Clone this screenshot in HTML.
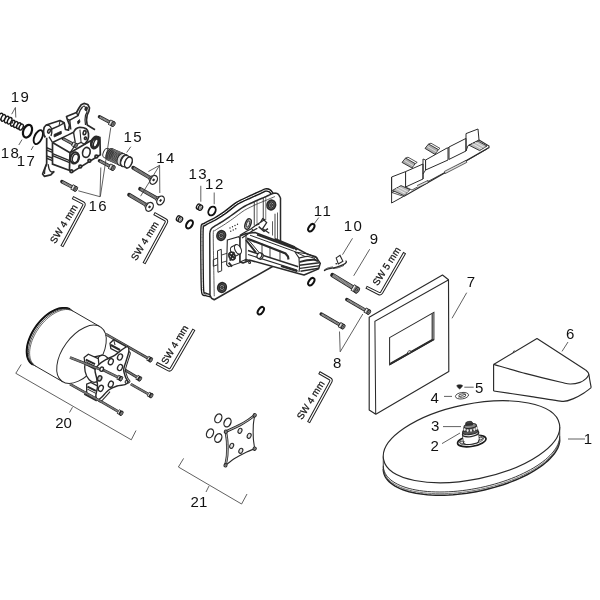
<!DOCTYPE html>
<html><head><meta charset="utf-8"><title>Exploded view</title>
<style>
html,body{margin:0;padding:0;background:#fff}
svg{display:block}
text{font-family:"Liberation Sans",sans-serif;fill:#111}
svg{filter:grayscale(1)}
</style></head><body>
<svg width="600" height="600" viewBox="0 0 600 600">
<rect width="600" height="600" fill="#fff"/>
<path d="M72.5,197.5 L82.84,202.8 Q84.8,203.8 83.76,205.74 L61.8,246.5" fill="none" stroke="#222" stroke-width="3.3"/>
<path d="M73.3,197.91 L82.84,202.8 Q84.8,203.8 83.76,205.74 L62.23,245.71" fill="none" stroke="#fff" stroke-width="1.3"/>
<text x="55.3" y="244.2" font-size="9.7" text-anchor="start" transform="rotate(-58.5 55.3 244.2)" letter-spacing="0.15" stroke="#111" stroke-width="0.25">SW 4 mm</text>
<path d="M154,213.5 L165.27,219.74 Q167.2,220.8 166.15,222.73 L144,263.5" fill="none" stroke="#222" stroke-width="3.3"/>
<path d="M154.79,213.94 L165.27,219.74 Q167.2,220.8 166.15,222.73 L144.43,262.71" fill="none" stroke="#fff" stroke-width="1.3"/>
<text x="136.3" y="261.2" font-size="9.7" text-anchor="start" transform="rotate(-58.5 136.3 261.2)" letter-spacing="0.15" stroke="#111" stroke-width="0.25">SW 4 mm</text>
<path d="M194,329.4 L171.3,368.7 Q170.2,370.6 168.26,369.57 L156.4,363.3" fill="none" stroke="#222" stroke-width="3.3"/>
<path d="M193.55,330.18 L171.3,368.7 Q170.2,370.6 168.26,369.57 L157.2,363.72" fill="none" stroke="#fff" stroke-width="1.3"/>
<text x="166.4" y="365.1" font-size="9.7" text-anchor="start" transform="rotate(-59 166.4 365.1)" letter-spacing="0.15" stroke="#111" stroke-width="0.25">SW 4 mm</text>
<path d="M319,372.5 L329.89,378.71 Q331.8,379.8 330.75,381.73 L308.5,422.5" fill="none" stroke="#222" stroke-width="3.3"/>
<path d="M319.78,372.95 L329.89,378.71 Q331.8,379.8 330.75,381.73 L308.93,421.71" fill="none" stroke="#fff" stroke-width="1.3"/>
<text x="302" y="420.3" font-size="9.7" text-anchor="start" transform="rotate(-58 302 420.3)" letter-spacing="0.15" stroke="#111" stroke-width="0.25">SW 4 mm</text>
<path d="M404.7,252.7 L381.7,292.5 Q380.6,294.4 378.63,293.41 L366.1,287.1" fill="none" stroke="#222" stroke-width="3.3"/>
<path d="M404.25,253.48 L381.7,292.5 Q380.6,294.4 378.63,293.41 L366.9,287.5" fill="none" stroke="#fff" stroke-width="1.3"/>
<text x="377.7" y="286.3" font-size="9.7" text-anchor="start" transform="rotate(-57.5 377.7 286.3)" letter-spacing="0.15" stroke="#111" stroke-width="0.25">SW 5 mm</text>
<line x1="99.5" y1="116.8" x2="109.3" y2="122" stroke="#242424" stroke-width="3.5" stroke-linecap="round"/>
<line x1="99.85" y1="116.99" x2="109.3" y2="122" stroke="#a0a0a0" stroke-width="1.9" />
<line x1="99.85" y1="116.99" x2="109.3" y2="122" stroke="#5a5a5a" stroke-width="1.9" stroke-dasharray="0.5 0.9"/>
<line x1="109.3" y1="122" x2="113.36" y2="124.16" stroke="#222" stroke-width="5.8" stroke-linecap="butt"/>
<line x1="109.92" y1="122.33" x2="113.36" y2="124.16" stroke="#777" stroke-width="4.1" />
<line x1="109.92" y1="122.33" x2="110.98" y2="122.89" stroke="#f2f2f2" stroke-width="4.1" />
<ellipse cx="113.36" cy="124.16" rx="1.57" ry="2.7" transform="rotate(27.95 113.36 124.16)" fill="#6a6a6a" stroke="#222" stroke-width="0.8"/>
<ellipse cx="113.36" cy="124.16" rx="0.75" ry="1.45" transform="rotate(27.95 113.36 124.16)" fill="#3a3a3a" stroke="#aaa" stroke-width="0.4"/>
<line x1="99.5" y1="160.8" x2="109.3" y2="166" stroke="#242424" stroke-width="3.5" stroke-linecap="round"/>
<line x1="99.85" y1="160.99" x2="109.3" y2="166" stroke="#a0a0a0" stroke-width="1.9" />
<line x1="99.85" y1="160.99" x2="109.3" y2="166" stroke="#5a5a5a" stroke-width="1.9" stroke-dasharray="0.5 0.9"/>
<line x1="109.3" y1="166" x2="113.36" y2="168.16" stroke="#222" stroke-width="5.8" stroke-linecap="butt"/>
<line x1="109.92" y1="166.33" x2="113.36" y2="168.16" stroke="#777" stroke-width="4.1" />
<line x1="109.92" y1="166.33" x2="110.98" y2="166.89" stroke="#f2f2f2" stroke-width="4.1" />
<ellipse cx="113.36" cy="168.16" rx="1.57" ry="2.7" transform="rotate(27.95 113.36 168.16)" fill="#6a6a6a" stroke="#222" stroke-width="0.8"/>
<ellipse cx="113.36" cy="168.16" rx="0.75" ry="1.45" transform="rotate(27.95 113.36 168.16)" fill="#3a3a3a" stroke="#aaa" stroke-width="0.4"/>
<line x1="61.9" y1="181.6" x2="71.7" y2="186.8" stroke="#242424" stroke-width="3.5" stroke-linecap="round"/>
<line x1="62.25" y1="181.79" x2="71.7" y2="186.8" stroke="#a0a0a0" stroke-width="1.9" />
<line x1="62.25" y1="181.79" x2="71.7" y2="186.8" stroke="#5a5a5a" stroke-width="1.9" stroke-dasharray="0.5 0.9"/>
<line x1="71.7" y1="186.8" x2="75.76" y2="188.96" stroke="#222" stroke-width="5.8" stroke-linecap="butt"/>
<line x1="72.32" y1="187.13" x2="75.76" y2="188.96" stroke="#777" stroke-width="4.1" />
<line x1="72.32" y1="187.13" x2="73.38" y2="187.69" stroke="#f2f2f2" stroke-width="4.1" />
<ellipse cx="75.76" cy="188.96" rx="1.57" ry="2.7" transform="rotate(27.95 75.76 188.96)" fill="#6a6a6a" stroke="#222" stroke-width="0.8"/>
<ellipse cx="75.76" cy="188.96" rx="0.75" ry="1.45" transform="rotate(27.95 75.76 188.96)" fill="#3a3a3a" stroke="#aaa" stroke-width="0.4"/>
<line x1="133.2" y1="167.8" x2="150.2" y2="177.9" stroke="#262626" stroke-width="3.9" stroke-linecap="round"/>
<line x1="133.54" y1="168" x2="150.2" y2="177.9" stroke="#8c8c8c" stroke-width="2.3" />
<line x1="133.54" y1="168" x2="150.2" y2="177.9" stroke="#555" stroke-width="2.3" stroke-dasharray="0.5 0.9"/>
<path d="M148.77,179.32 L151.24,183.98 L156.04,175.9 L150.77,175.97 Z" fill="#fff" stroke="#2a2a2a" stroke-width="0.8"/>
<ellipse cx="153.64" cy="179.94" rx="3.4" ry="4.7" transform="rotate(30.72 153.64 179.94)" fill="#fff" stroke="#2a2a2a" stroke-width="1.3"/>
<ellipse cx="153.64" cy="179.94" rx="0.8" ry="1.1" transform="rotate(30.72 153.64 179.94)" fill="#222" stroke="#2a2a2a" stroke-width="0.7"/>
<line x1="140.1" y1="188.9" x2="157.1" y2="198.5" stroke="#262626" stroke-width="3.9" stroke-linecap="round"/>
<line x1="140.45" y1="189.1" x2="157.1" y2="198.5" stroke="#8c8c8c" stroke-width="2.3" />
<line x1="140.45" y1="189.1" x2="157.1" y2="198.5" stroke="#555" stroke-width="2.3" stroke-dasharray="0.5 0.9"/>
<path d="M155.71,199.95 L158.27,204.56 L162.89,196.37 L157.62,196.56 Z" fill="#fff" stroke="#2a2a2a" stroke-width="0.8"/>
<ellipse cx="160.58" cy="200.47" rx="3.4" ry="4.7" transform="rotate(29.45 160.58 200.47)" fill="#fff" stroke="#2a2a2a" stroke-width="1.3"/>
<ellipse cx="160.58" cy="200.47" rx="0.8" ry="1.1" transform="rotate(29.45 160.58 200.47)" fill="#222" stroke="#2a2a2a" stroke-width="0.7"/>
<line x1="129.1" y1="194.8" x2="146.1" y2="204.9" stroke="#262626" stroke-width="3.9" stroke-linecap="round"/>
<line x1="129.44" y1="195" x2="146.1" y2="204.9" stroke="#8c8c8c" stroke-width="2.3" />
<line x1="129.44" y1="195" x2="146.1" y2="204.9" stroke="#555" stroke-width="2.3" stroke-dasharray="0.5 0.9"/>
<path d="M144.67,206.32 L147.14,210.98 L151.94,202.9 L146.67,202.97 Z" fill="#fff" stroke="#2a2a2a" stroke-width="0.8"/>
<ellipse cx="149.54" cy="206.94" rx="3.4" ry="4.7" transform="rotate(30.72 149.54 206.94)" fill="#fff" stroke="#2a2a2a" stroke-width="1.3"/>
<ellipse cx="149.54" cy="206.94" rx="0.8" ry="1.1" transform="rotate(30.72 149.54 206.94)" fill="#222" stroke="#2a2a2a" stroke-width="0.7"/>
<line x1="332.5" y1="275.1" x2="352.4" y2="287.3" stroke="#242424" stroke-width="4.6" stroke-linecap="round"/>
<line x1="332.84" y1="275.31" x2="352.4" y2="287.3" stroke="#a0a0a0" stroke-width="3" />
<line x1="332.84" y1="275.31" x2="352.4" y2="287.3" stroke="#5a5a5a" stroke-width="3" stroke-dasharray="0.5 0.9"/>
<line x1="352.4" y1="287.3" x2="357.17" y2="290.23" stroke="#222" stroke-width="7.2" stroke-linecap="butt"/>
<line x1="353" y1="287.67" x2="357.17" y2="290.23" stroke="#777" stroke-width="5.5" />
<line x1="353" y1="287.67" x2="354.02" y2="288.29" stroke="#f2f2f2" stroke-width="5.5" />
<ellipse cx="357.17" cy="290.23" rx="1.94" ry="3.4" transform="rotate(31.51 357.17 290.23)" fill="#6a6a6a" stroke="#222" stroke-width="0.8"/>
<ellipse cx="357.17" cy="290.23" rx="0.94" ry="1.8" transform="rotate(31.51 357.17 290.23)" fill="#3a3a3a" stroke="#aaa" stroke-width="0.4"/>
<line x1="346.8" y1="299.5" x2="364.9" y2="309.9" stroke="#242424" stroke-width="3.5" stroke-linecap="round"/>
<line x1="347.15" y1="299.7" x2="364.9" y2="309.9" stroke="#a0a0a0" stroke-width="1.9" />
<line x1="347.15" y1="299.7" x2="364.9" y2="309.9" stroke="#5a5a5a" stroke-width="1.9" stroke-dasharray="0.5 0.9"/>
<line x1="364.9" y1="309.9" x2="368.89" y2="312.19" stroke="#222" stroke-width="5.6" stroke-linecap="butt"/>
<line x1="365.51" y1="310.25" x2="368.89" y2="312.19" stroke="#777" stroke-width="3.9" />
<line x1="365.51" y1="310.25" x2="366.55" y2="310.85" stroke="#f2f2f2" stroke-width="3.9" />
<ellipse cx="368.89" cy="312.19" rx="1.51" ry="2.6" transform="rotate(29.88 368.89 312.19)" fill="#6a6a6a" stroke="#222" stroke-width="0.8"/>
<ellipse cx="368.89" cy="312.19" rx="0.73" ry="1.4" transform="rotate(29.88 368.89 312.19)" fill="#3a3a3a" stroke="#aaa" stroke-width="0.4"/>
<line x1="321.2" y1="314.1" x2="339.3" y2="324.5" stroke="#242424" stroke-width="3.5" stroke-linecap="round"/>
<line x1="321.55" y1="314.3" x2="339.3" y2="324.5" stroke="#a0a0a0" stroke-width="1.9" />
<line x1="321.55" y1="314.3" x2="339.3" y2="324.5" stroke="#5a5a5a" stroke-width="1.9" stroke-dasharray="0.5 0.9"/>
<line x1="339.3" y1="324.5" x2="343.29" y2="326.79" stroke="#222" stroke-width="5.6" stroke-linecap="butt"/>
<line x1="339.91" y1="324.85" x2="343.29" y2="326.79" stroke="#777" stroke-width="3.9" />
<line x1="339.91" y1="324.85" x2="340.95" y2="325.45" stroke="#f2f2f2" stroke-width="3.9" />
<ellipse cx="343.29" cy="326.79" rx="1.51" ry="2.6" transform="rotate(29.88 343.29 326.79)" fill="#6a6a6a" stroke="#222" stroke-width="0.8"/>
<ellipse cx="343.29" cy="326.79" rx="0.73" ry="1.4" transform="rotate(29.88 343.29 326.79)" fill="#3a3a3a" stroke="#aaa" stroke-width="0.4"/>
<ellipse cx="27.5" cy="131.2" rx="4.2" ry="6.6" transform="rotate(22 27.5 131.2)" fill="none" stroke="#111" stroke-width="2.2"/>
<ellipse cx="38.3" cy="137.1" rx="3.8" ry="7.5" transform="rotate(25 38.3 137.1)" fill="none" stroke="#111" stroke-width="1.9"/>
<ellipse cx="189.5" cy="224.4" rx="2.8" ry="4.5" transform="rotate(33 189.5 224.4)" fill="none" stroke="#111" stroke-width="2.1"/>
<ellipse cx="212" cy="211" rx="3.3" ry="4.7" transform="rotate(30 212 211)" fill="none" stroke="#111" stroke-width="1.9"/>
<ellipse cx="311.3" cy="227.7" rx="2.4" ry="4.2" transform="rotate(35 311.3 227.7)" fill="none" stroke="#111" stroke-width="2"/>
<ellipse cx="311.3" cy="281.7" rx="2.4" ry="4.2" transform="rotate(35 311.3 281.7)" fill="none" stroke="#111" stroke-width="2"/>
<ellipse cx="260.8" cy="310.7" rx="2.4" ry="4.2" transform="rotate(35 260.8 310.7)" fill="none" stroke="#111" stroke-width="2"/>
<ellipse cx="198.6" cy="206.7" rx="2" ry="2.8" transform="rotate(28 198.6 206.7)" fill="#fff" stroke="#1a1a1a" stroke-width="1.3"/>
<ellipse cx="200.4" cy="207.7" rx="2" ry="2.8" transform="rotate(28 200.4 207.7)" fill="#fff" stroke="#1a1a1a" stroke-width="1.3"/>
<ellipse cx="200.5" cy="207.7" rx="0.7" ry="1.2" transform="rotate(28 200.5 207.7)" fill="none" stroke="#333" stroke-width="0.6"/>
<ellipse cx="178.6" cy="218.5" rx="2" ry="2.8" transform="rotate(28 178.6 218.5)" fill="#fff" stroke="#1a1a1a" stroke-width="1.3"/>
<ellipse cx="180.4" cy="219.5" rx="2" ry="2.8" transform="rotate(28 180.4 219.5)" fill="#fff" stroke="#1a1a1a" stroke-width="1.3"/>
<ellipse cx="180.5" cy="219.5" rx="0.7" ry="1.2" transform="rotate(28 180.5 219.5)" fill="none" stroke="#333" stroke-width="0.6"/>
<path d="M369.2,317.2 L442.5,275 L448.5,279.7 L448.8,371.6 L375.8,414.2 L369.2,410 Z" fill="#fff" stroke="#2a2a2a" stroke-width="1.15" stroke-linejoin="round"/>
<path d="M448.3,280 L374.9,321.4 L375.7,414" fill="none" stroke="#2a2a2a" stroke-width="1.03"/>
<path d="M389.6,337.6 L433.9,312.3 L433.9,339.7 L389.6,364.8 Z" fill="none" stroke="#2a2a2a" stroke-width="1.03"/>
<path d="M390.4,363.2 L432.2,339.4 L432.2,313.6" fill="none" stroke="#2a2a2a" stroke-width="1.15"/>
<path d="M389.8,364.4 L433.7,339.4" fill="none" stroke="#2a2a2a" stroke-width="1.61"/>
<ellipse cx="409.2" cy="351.9" rx="1.8" ry="1" transform="rotate(-30 409.2 351.9)" fill="#fff" stroke="#2a2a2a" stroke-width="0.8"/>
<path d="M493.6,364.4 L537,338.6 L585.6,370" fill="none" stroke="#2a2a2a" stroke-width="1.15" stroke-linejoin="round"/>
<path d="M585.6,370 C586.07,370.5 587.73,371.5 588.4,373 C589.07,374.5 589.13,376.57 589.6,379 C590.07,381.43 590.93,386.17 591.2,387.6" fill="none" stroke="#2a2a2a" stroke-width="1.15"/>
<path d="M493.6,364.4 L493.6,391" fill="none" stroke="#2a2a2a" stroke-width="1.15"/>
<path d="M493.6,364.4 C499,365.93 514.93,370.67 526,373.6 C537.07,376.53 552.67,380.27 560,382 C567.33,383.73 566.67,383.93 570,384 C573.33,384.07 577.33,383.3 580,382.4 C582.67,381.5 584.5,379.93 586,378.6 C587.5,377.27 588.5,375.1 589,374.4" fill="none" stroke="#2a2a2a" stroke-width="1.15"/>
<path d="M493.6,391 C497.24,391.54 523.06,395.36 530,396.4 C536.94,397.44 558.6,401.2 563,401.4 C567.4,401.6 571.9,399.24 574,398.4 C576.1,397.56 582.28,394.08 584,393 C585.72,391.92 590.48,388.14 591.2,387.6" fill="none" stroke="#2a2a2a" stroke-width="1.15"/>
<line x1="513" y1="352.4" x2="514.4" y2="350.4" stroke="#2a2a2a" stroke-width="0.8" />
<path d="M559.72,439.56 L559.6,441.58 L559.24,443.64 L558.63,445.72 L557.79,447.83 L556.71,449.96 L555.4,452.1 L553.86,454.24 L552.09,456.38 L550.1,458.52 L547.9,460.65 L545.49,462.75 L542.87,464.84 L540.06,466.9 L537.06,468.92 L533.88,470.9 L530.53,472.83 L527.02,474.72 L523.35,476.55 L519.55,478.31 L515.61,480.02 L511.55,481.65 L507.38,483.2 L503.11,484.68 L498.76,486.07 L494.33,487.38 L489.84,488.59 L485.3,489.71 L480.72,490.74 L476.12,491.66 L471.5,492.48 L466.88,493.2 L462.28,493.81 L457.7,494.31 L453.16,494.7 L448.67,494.98 L444.24,495.15 L439.89,495.21 L435.62,495.15 L431.45,494.98 L427.39,494.7 L423.45,494.31 L419.65,493.81 L415.98,493.2 L412.47,492.49 L409.12,491.67 L405.94,490.75 L402.94,489.72 L400.13,488.6 L397.51,487.39 L395.1,486.09 L392.9,484.69 L390.91,483.22 L389.14,481.66 L387.6,480.03 L386.29,478.33 L385.21,476.57 L384.37,474.74 L383.76,472.85 L383.4,470.92 L383.28,468.94" fill="none" stroke="#222" stroke-width="1.49"/>
<path d="M559.72,438.06 L559.6,440.08 L559.24,442.14 L558.63,444.22 L557.79,446.33 L556.71,448.46 L555.4,450.6 L553.86,452.74 L552.09,454.88 L550.1,457.02 L547.9,459.15 L545.49,461.25 L542.87,463.34 L540.06,465.4 L537.06,467.42 L533.88,469.4 L530.53,471.33 L527.02,473.22 L523.35,475.05 L519.55,476.81 L515.61,478.52 L511.55,480.15 L507.38,481.7 L503.11,483.18 L498.76,484.57 L494.33,485.88 L489.84,487.09 L485.3,488.21 L480.72,489.24 L476.12,490.16 L471.5,490.98 L466.88,491.7 L462.28,492.31 L457.7,492.81 L453.16,493.2 L448.67,493.48 L444.24,493.65 L439.89,493.71 L435.62,493.65 L431.45,493.48 L427.39,493.2 L423.45,492.81 L419.65,492.31 L415.98,491.7 L412.47,490.99 L409.12,490.17 L405.94,489.25 L402.94,488.22 L400.13,487.1 L397.51,485.89 L395.1,484.59 L392.9,483.19 L390.91,481.72 L389.14,480.16 L387.6,478.53 L386.29,476.83 L385.21,475.07 L384.37,473.24 L383.76,471.35 L383.4,469.42 L383.28,467.44" fill="none" stroke="#555" stroke-width="0.8"/>
<path d="M559.72,436.36 L559.6,438.38 L559.24,440.44 L558.63,442.52 L557.79,444.63 L556.71,446.76 L555.4,448.9 L553.86,451.04 L552.09,453.18 L550.1,455.32 L547.9,457.45 L545.49,459.55 L542.87,461.64 L540.06,463.7 L537.06,465.72 L533.88,467.7 L530.53,469.63 L527.02,471.52 L523.35,473.35 L519.55,475.11 L515.61,476.82 L511.55,478.45 L507.38,480 L503.11,481.48 L498.76,482.87 L494.33,484.18 L489.84,485.39 L485.3,486.51 L480.72,487.54 L476.12,488.46 L471.5,489.28 L466.88,490 L462.28,490.61 L457.7,491.11 L453.16,491.5 L448.67,491.78 L444.24,491.95 L439.89,492.01 L435.62,491.95 L431.45,491.78 L427.39,491.5 L423.45,491.11 L419.65,490.61 L415.98,490 L412.47,489.29 L409.12,488.47 L405.94,487.55 L402.94,486.52 L400.13,485.4 L397.51,484.19 L395.1,482.89 L392.9,481.49 L390.91,480.02 L389.14,478.46 L387.6,476.83 L386.29,475.13 L385.21,473.37 L384.37,471.54 L383.76,469.65 L383.4,467.72 L383.28,465.74" fill="none" stroke="#2a2a2a" stroke-width="0.92"/>
<line x1="559.72" y1="427.06" x2="559.72" y2="439.56" stroke="#2a2a2a" stroke-width="0.9" />
<line x1="383.28" y1="456.44" x2="383.28" y2="468.94" stroke="#2a2a2a" stroke-width="0.9" />
<ellipse cx="471.5" cy="441.75" rx="89.7" ry="37.6" transform="rotate(-11.5 471.5 441.75)" fill="#fff" stroke="#2a2a2a" stroke-width="1.15"/>
<ellipse cx="462" cy="395.7" rx="6.6" ry="3.2" transform="rotate(-8 462 395.7)" fill="#fff" stroke="#2a2a2a" stroke-width="0.8"/>
<ellipse cx="462.3" cy="395.5" rx="3.6" ry="1.7" transform="rotate(-8 462.3 395.5)" fill="none" stroke="#2a2a2a" stroke-width="0.8"/>
<line x1="458.5" y1="397.2" x2="465.5" y2="394" stroke="#2a2a2a" stroke-width="0.7" />
<path d="M456.8,385.6 C456.9,384.97 458.63,384.8 459.6,384.8 C460.57,384.8 462.47,385 462.6,385.6 C462.73,386.2 461,387.9 460.4,388.4 C459.8,388.9 459.6,389.07 459,388.6 C458.4,388.13 456.7,386.23 456.8,385.6 Z" fill="#222" stroke="#2a2a2a" stroke-width="0.6"/>
<ellipse cx="471.8" cy="441" rx="14.4" ry="5.3" transform="rotate(-10 471.8 441)" fill="#fff" stroke="#1a1a1a" stroke-width="1.7"/>
<ellipse cx="471.6" cy="440.2" rx="12.2" ry="4.1" transform="rotate(-10 471.6 440.2)" fill="#fff" stroke="#2a2a2a" stroke-width="0.7"/>
<ellipse cx="462" cy="442.5" rx="2.2" ry="1.4" transform="rotate(-10 462 442.5)" fill="#ddd" stroke="#2a2a2a" stroke-width="0.8"/>
<ellipse cx="480.5" cy="438.6" rx="2.2" ry="1.4" transform="rotate(-10 480.5 438.6)" fill="#ddd" stroke="#2a2a2a" stroke-width="0.8"/>
<path d="M462.9,434.5 L463.6,442.5" fill="none" stroke="#2a2a2a" stroke-width="1"/>
<path d="M478.3,432.5 L478.9,440.5" fill="none" stroke="#2a2a2a" stroke-width="1"/>
<path d="M462.9,434.5 L478.3,432.5 L478.9,440.5 L463.6,442.5 Z" fill="#fff" stroke="none" stroke-width="0"/>
<path d="M462.9,434.5 L463.6,442.5" fill="none" stroke="#2a2a2a" stroke-width="1"/>
<path d="M478.3,432.5 L478.9,440.5" fill="none" stroke="#2a2a2a" stroke-width="1"/>
<ellipse cx="471.2" cy="441.6" rx="7.7" ry="2.7" transform="rotate(-8 471.2 441.6)" fill="#fff" stroke="#2a2a2a" stroke-width="1"/>
<path d="M463.7,441.5 L478.8,439.7 L478.3,434 L463,436 Z" fill="#fff" stroke="none" stroke-width="0"/>
<ellipse cx="470.6" cy="433.6" rx="8.2" ry="3" transform="rotate(-8 470.6 433.6)" fill="#fff" stroke="#2a2a2a" stroke-width="1.3"/>
<ellipse cx="470.3" cy="431.6" rx="7.8" ry="2.8" transform="rotate(-8 470.3 431.6)" fill="#555" stroke="#2a2a2a" stroke-width="1.1"/>
<path d="M463,431.5 L464.2,426.5 L476.4,425 L477.8,430.2 Z" fill="#555" stroke="#2a2a2a" stroke-width="0.8"/>
<ellipse cx="470.2" cy="426" rx="6.2" ry="2.3" transform="rotate(-8 470.2 426)" fill="#888" stroke="#2a2a2a" stroke-width="1"/>
<ellipse cx="464.6" cy="429.5" rx="1" ry="1.3" transform="rotate(0 464.6 429.5)" fill="#eee" stroke="none" stroke-width="0"/>
<ellipse cx="467.6" cy="430.6" rx="1" ry="1.3" transform="rotate(0 467.6 430.6)" fill="#eee" stroke="none" stroke-width="0"/>
<ellipse cx="471" cy="430.4" rx="1" ry="1.3" transform="rotate(0 471 430.4)" fill="#eee" stroke="none" stroke-width="0"/>
<ellipse cx="474.4" cy="429.6" rx="1" ry="1.3" transform="rotate(0 474.4 429.6)" fill="#eee" stroke="none" stroke-width="0"/>
<ellipse cx="476.6" cy="428.4" rx="1" ry="1.3" transform="rotate(0 476.6 428.4)" fill="#eee" stroke="none" stroke-width="0"/>
<path d="M465.6,425.6 L465.9,423 L472.2,422.3 L472.6,425 Z" fill="#333" stroke="#2a2a2a" stroke-width="0.8"/>
<ellipse cx="469" cy="422.7" rx="3.2" ry="1.3" transform="rotate(-8 469 422.7)" fill="#444" stroke="#2a2a2a" stroke-width="0.8"/>
<ellipse cx="218.3" cy="418.3" rx="3.3" ry="4.6" transform="rotate(25 218.3 418.3)" fill="none" stroke="#2a2a2a" stroke-width="1.3"/>
<ellipse cx="227.5" cy="422.5" rx="3.3" ry="4.6" transform="rotate(25 227.5 422.5)" fill="none" stroke="#2a2a2a" stroke-width="1.3"/>
<ellipse cx="210" cy="433.3" rx="3.3" ry="4.6" transform="rotate(25 210 433.3)" fill="none" stroke="#2a2a2a" stroke-width="1.3"/>
<ellipse cx="218.3" cy="438" rx="3.3" ry="4.6" transform="rotate(25 218.3 438)" fill="none" stroke="#2a2a2a" stroke-width="1.3"/>
<path d="M225.83,431.67 C227.72,430.78 237,426.56 240,425 C243,423.44 246.38,421.29 248.33,420 C250.29,418.71 253.82,415.96 254.67,415.33" fill="none" stroke="#2a2a2a" stroke-width="2.6"/>
<path d="M225.83,431.67 C227.72,430.78 237,426.56 240,425 C243,423.44 246.38,421.29 248.33,420 C250.29,418.71 253.82,415.96 254.67,415.33" fill="none" stroke="#fff" stroke-width="0.7"/>
<path d="M225.5,465.33 C225.72,463.96 226.94,458.16 227.17,455 C227.39,451.84 227.34,444.78 227.17,441.67 C226.99,438.56 226.01,433 225.83,431.67" fill="none" stroke="#2a2a2a" stroke-width="2.6"/>
<path d="M225.5,465.33 C225.72,463.96 226.94,458.16 227.17,455 C227.39,451.84 227.34,444.78 227.17,441.67 C226.99,438.56 226.01,433 225.83,431.67" fill="none" stroke="#fff" stroke-width="0.7"/>
<path d="M254.67,415.33 C254.49,416.62 253.51,421.93 253.33,425 C253.16,428.07 253.16,435.18 253.33,438.33 C253.51,441.49 254.49,447.29 254.67,448.67" fill="none" stroke="#2a2a2a" stroke-width="1.1"/>
<path d="M254.67,448.67 C253.6,449.11 249.29,450.71 246.67,452 C244.04,453.29 237.82,456.56 235,458.33 C232.18,460.11 226.77,464.4 225.5,465.33" fill="none" stroke="#2a2a2a" stroke-width="1.1"/>
<ellipse cx="225.83" cy="431.67" rx="1.5" ry="1.67" transform="rotate(25 225.83 431.67)" fill="#fff" stroke="#2a2a2a" stroke-width="1.1"/>
<ellipse cx="225.83" cy="431.67" rx="0.58" ry="0.67" transform="rotate(25 225.83 431.67)" fill="#ccc" stroke="#2a2a2a" stroke-width="0.6"/>
<ellipse cx="254.67" cy="415.33" rx="1.5" ry="1.67" transform="rotate(25 254.67 415.33)" fill="#fff" stroke="#2a2a2a" stroke-width="1.1"/>
<ellipse cx="254.67" cy="415.33" rx="0.58" ry="0.67" transform="rotate(25 254.67 415.33)" fill="#ccc" stroke="#2a2a2a" stroke-width="0.6"/>
<ellipse cx="254.67" cy="448.67" rx="1.5" ry="1.67" transform="rotate(25 254.67 448.67)" fill="#fff" stroke="#2a2a2a" stroke-width="1.1"/>
<ellipse cx="254.67" cy="448.67" rx="0.58" ry="0.67" transform="rotate(25 254.67 448.67)" fill="#ccc" stroke="#2a2a2a" stroke-width="0.6"/>
<ellipse cx="225.5" cy="465.33" rx="1.5" ry="1.67" transform="rotate(25 225.5 465.33)" fill="#fff" stroke="#2a2a2a" stroke-width="1.1"/>
<ellipse cx="225.5" cy="465.33" rx="0.58" ry="0.67" transform="rotate(25 225.5 465.33)" fill="#ccc" stroke="#2a2a2a" stroke-width="0.6"/>
<ellipse cx="240" cy="430.83" rx="1.83" ry="2.67" transform="rotate(25 240 430.83)" fill="#e4e4e4" stroke="#2a2a2a" stroke-width="1.1"/>
<ellipse cx="249.17" cy="435.83" rx="1.83" ry="2.67" transform="rotate(25 249.17 435.83)" fill="#e4e4e4" stroke="#2a2a2a" stroke-width="1.1"/>
<ellipse cx="231.67" cy="445.83" rx="1.83" ry="2.67" transform="rotate(25 231.67 445.83)" fill="#e4e4e4" stroke="#2a2a2a" stroke-width="1.1"/>
<ellipse cx="240.83" cy="450.83" rx="1.83" ry="2.67" transform="rotate(25 240.83 450.83)" fill="#e4e4e4" stroke="#2a2a2a" stroke-width="1.1"/>
<path d="M45.3,137.5 L44,135 L43.5,131 L44.2,127.2 L46.2,125 L60,120.5 L64.2,122.8 L65.5,129.5 L68.5,130.2 L69.5,125 L67.2,119 L66.5,116.5 L76.5,112.5 L79,108 L81.2,104.8 L84,103.4 L87.8,104.5 L89.5,107.8 L88.8,111.5 L87.2,115 L86.5,120 L87.2,125 L95,129.8" fill="none" stroke="#2a2a2a" stroke-width="1.7" stroke-linejoin="round"/>
<ellipse cx="49" cy="131.2" rx="1.2" ry="2" transform="rotate(20 49 131.2)" fill="none" stroke="#2a2a2a" stroke-width="1.53"/>
<path d="M46.2,125 C46.67,125.08 48.17,125 49,125.5 C49.83,126 50.73,126.88 51.2,128 C51.67,129.12 51.83,130.87 51.8,132.2 C51.77,133.53 51.13,135.37 51,136" fill="none" stroke="#2a2a2a" stroke-width="1.36"/>
<path d="M51.8,129 L59,126 L64.2,122.8" fill="none" stroke="#2a2a2a" stroke-width="1.36"/>
<path d="M59,126 L60,120.8" fill="none" stroke="#2a2a2a" stroke-width="1.02"/>
<path d="M54,134.5 L61.2,131.2 L61.4,133.7 L54.2,137 Z" fill="#222" stroke="#2a2a2a" stroke-width="0.85"/>
<path d="M67.2,119 L69.7,120.2 L78,115.7 L76.5,112.5" fill="none" stroke="#2a2a2a" stroke-width="1.36"/>
<path d="M69.7,120.2 L70.8,129.5" fill="none" stroke="#2a2a2a" stroke-width="1.36"/>
<path d="M78,115.7 L80.2,110 L82.5,107" fill="none" stroke="#2a2a2a" stroke-width="1.36"/>
<path d="M77.5,121.4 L79.5,119.6 L80,122.2 L78,124.1 Z" fill="#222" stroke="#2a2a2a" stroke-width="0.85"/>
<ellipse cx="86.2" cy="108.8" rx="0.9" ry="1.5" transform="rotate(25 86.2 108.8)" fill="none" stroke="#2a2a2a" stroke-width="1.53"/>
<path d="M82.5,107 C82.83,106.87 83.75,105.45 84.5,106.2 C85.25,106.95 86.83,110.03 87,111.5 C87.17,112.97 85.75,114.42 85.5,115" fill="none" stroke="#2a2a2a" stroke-width="1.19"/>
<path d="M85.5,115 L85,120 L85.5,125" fill="none" stroke="#2a2a2a" stroke-width="1.19"/>
<path d="M46.67,137.83 L46.67,163.5 L42.58,174 L44.33,176.34 L50.75,174.94 L54.25,171.44" fill="none" stroke="#2a2a2a" stroke-width="1.7" stroke-linejoin="round"/>
<path d="M49,136.67 L52.5,142.5" fill="none" stroke="#2a2a2a" stroke-width="1.36"/>
<path d="M46.67,147.75 L52.5,150.08" fill="none" stroke="#2a2a2a" stroke-width="1.36"/>
<path d="M46.67,150.08 L52.5,152.42" fill="none" stroke="#2a2a2a" stroke-width="1.36"/>
<path d="M46.67,155.92 L52.5,158.25" fill="none" stroke="#2a2a2a" stroke-width="1.36"/>
<path d="M46.67,158.25 L52.5,160.59" fill="none" stroke="#2a2a2a" stroke-width="1.36"/>
<path d="M48.07,164.09 C48.26,164.96 48.69,168.03 49.23,169.34 C49.78,170.64 50.5,171.55 51.33,171.9 C52.17,172.25 53.76,171.51 54.25,171.44" fill="none" stroke="#2a2a2a" stroke-width="1.36"/>
<path d="M46.67,164.09 C46.38,164.96 45.27,167.68 44.92,169.34 C44.57,170.99 44.63,173.22 44.57,174" fill="none" stroke="#2a2a2a" stroke-width="1.19"/>
<path d="M52.5,142.5 L68.25,134.92 L73.5,132.23" fill="none" stroke="#2a2a2a" stroke-width="1.53"/>
<path d="M52.5,142.5 L52.5,164.09 L69.07,170.27" fill="none" stroke="#2a2a2a" stroke-width="1.7"/>
<path d="M52.5,142.5 L70,152.77 L69.42,170.27" fill="none" stroke="#2a2a2a" stroke-width="1.7"/>
<path d="M52.5,153.58 L69.65,160.59" fill="none" stroke="#2a2a2a" stroke-width="1.36"/>
<path d="M52.5,155.57 L69.65,162.57" fill="none" stroke="#2a2a2a" stroke-width="1.36"/>
<path d="M70,152.77 L89.84,141.33 L99.4,136.43" fill="none" stroke="#2a2a2a" stroke-width="1.7"/>
<path d="M69.07,170.27 L72.57,171.9 L100.34,154.75 L99.87,136.67" fill="none" stroke="#2a2a2a" stroke-width="1.7"/>
<ellipse cx="74.67" cy="157.9" rx="4.2" ry="5.6" transform="rotate(15 74.67 157.9)" fill="#fff" stroke="#2a2a2a" stroke-width="2.21"/>
<ellipse cx="75.37" cy="158.37" rx="2.92" ry="4.32" transform="rotate(15 75.37 158.37)" fill="none" stroke="#2a2a2a" stroke-width="1.36"/>
<ellipse cx="86.34" cy="152.42" rx="3.73" ry="5.02" transform="rotate(15 86.34 152.42)" fill="#fff" stroke="#2a2a2a" stroke-width="1.7"/>
<ellipse cx="95.09" cy="142.5" rx="3.5" ry="5.83" transform="rotate(20 95.09 142.5)" fill="none" stroke="#2a2a2a" stroke-width="2.72"/>
<ellipse cx="95.9" cy="143.08" rx="2.1" ry="4.2" transform="rotate(20 95.9 143.08)" fill="none" stroke="#2a2a2a" stroke-width="1.36"/>
<ellipse cx="71.4" cy="171.2" rx="1.4" ry="1.4" transform="rotate(0 71.4 171.2)" fill="#ccc" stroke="#2a2a2a" stroke-width="1.7"/>
<ellipse cx="80.27" cy="166.54" rx="1.4" ry="1.4" transform="rotate(0 80.27 166.54)" fill="#ccc" stroke="#2a2a2a" stroke-width="1.7"/>
<ellipse cx="89.37" cy="160.7" rx="1.4" ry="1.4" transform="rotate(0 89.37 160.7)" fill="#ccc" stroke="#2a2a2a" stroke-width="1.7"/>
<ellipse cx="96.37" cy="156.5" rx="1.4" ry="1.4" transform="rotate(0 96.37 156.5)" fill="#ccc" stroke="#2a2a2a" stroke-width="1.7"/>
<path d="M73.5,132.23 C73.84,131.77 75.21,129.39 76.07,128.73 C76.92,128.08 78.58,127.33 79.92,127.33 C81.26,127.33 84.97,127.92 86.1,128.73 C87.24,129.54 88.22,131.91 88.44,133.4 C88.65,134.89 88.25,138.49 87.74,139.93 C87.22,141.38 85.01,143.68 84.59,144.25" fill="none" stroke="#2a2a2a" stroke-width="1.7"/>
<path d="M73.5,132.23 L75.25,142.5" fill="none" stroke="#2a2a2a" stroke-width="1.36"/>
<path d="M79.92,129.67 L81.09,142.5" fill="none" stroke="#2a2a2a" stroke-width="1.02"/>
<ellipse cx="84.59" cy="132.7" rx="1.4" ry="2.1" transform="rotate(15 84.59 132.7)" fill="none" stroke="#2a2a2a" stroke-width="1.53"/>
<ellipse cx="85.4" cy="138.3" rx="1.05" ry="1.28" transform="rotate(15 85.4 138.3)" fill="none" stroke="#2a2a2a" stroke-width="1.53"/>
<path d="M84.59,144.25 L81.09,142.5 L75.25,145.07 L70,152.77" fill="none" stroke="#2a2a2a" stroke-width="1.19"/>
<line x1="63" y1="138.7" x2="72.3" y2="143.6" stroke="#242424" stroke-width="3" stroke-linecap="round"/>
<line x1="63.35" y1="138.89" x2="72.3" y2="143.6" stroke="#a0a0a0" stroke-width="1.4" />
<line x1="63.35" y1="138.89" x2="72.3" y2="143.6" stroke="#5a5a5a" stroke-width="1.4" stroke-dasharray="0.5 0.9"/>
<line x1="72.3" y1="143.6" x2="76.02" y2="145.56" stroke="#222" stroke-width="5" stroke-linecap="butt"/>
<line x1="72.92" y1="143.93" x2="76.02" y2="145.56" stroke="#777" stroke-width="3.3" />
<line x1="72.92" y1="143.93" x2="73.98" y2="144.49" stroke="#f2f2f2" stroke-width="3.3" />
<ellipse cx="76.02" cy="145.56" rx="1.35" ry="2.3" transform="rotate(27.78 76.02 145.56)" fill="#6a6a6a" stroke="#222" stroke-width="0.8"/>
<ellipse cx="76.02" cy="145.56" rx="0.65" ry="1.25" transform="rotate(27.78 76.02 145.56)" fill="#3a3a3a" stroke="#aaa" stroke-width="0.4"/>
<line x1="0.5" y1="116.6" x2="9.6" y2="120.8" stroke="#fff" stroke-width="6.4" />
<ellipse cx="0.5" cy="116.6" rx="1.9" ry="3.5" transform="rotate(27 0.5 116.6)" fill="#fff" stroke="#1a1a1a" stroke-width="1.4"/>
<ellipse cx="3.3" cy="117.9" rx="1.9" ry="3.5" transform="rotate(27 3.3 117.9)" fill="#fff" stroke="#1a1a1a" stroke-width="1.4"/>
<ellipse cx="6.7" cy="119.6" rx="1.9" ry="3.5" transform="rotate(27 6.7 119.6)" fill="#fff" stroke="#1a1a1a" stroke-width="1.4"/>
<ellipse cx="9.6" cy="120.8" rx="1.9" ry="3.5" transform="rotate(27 9.6 120.8)" fill="#fff" stroke="#1a1a1a" stroke-width="1.4"/>
<line x1="12.8" y1="123.2" x2="21.2" y2="127.1" stroke="#fff" stroke-width="5.8" />
<ellipse cx="12.8" cy="123.2" rx="1.8" ry="3.2" transform="rotate(27 12.8 123.2)" fill="#fff" stroke="#1a1a1a" stroke-width="1.4"/>
<ellipse cx="15.8" cy="124.6" rx="1.8" ry="3.2" transform="rotate(27 15.8 124.6)" fill="#fff" stroke="#1a1a1a" stroke-width="1.4"/>
<ellipse cx="18.8" cy="125.8" rx="1.8" ry="3.2" transform="rotate(27 18.8 125.8)" fill="#fff" stroke="#1a1a1a" stroke-width="1.4"/>
<ellipse cx="21.2" cy="127.1" rx="1.8" ry="3.2" transform="rotate(27 21.2 127.1)" fill="#fff" stroke="#1a1a1a" stroke-width="1.4"/>
<line x1="10.5" y1="121.5" x2="13" y2="122.8" stroke="#333" stroke-width="2.4" />
<ellipse cx="106.2" cy="153.1" rx="2.94" ry="4.9" transform="rotate(22.38 106.2 153.1)" fill="#fff" stroke="#2a2a2a" stroke-width="0.9"/>
<path d="M104.33,157.63 L107.73,159.03 L111.47,149.97 L108.07,148.57" fill="#fff" stroke="#2a2a2a" stroke-width="0.9"/>
<ellipse cx="109.6" cy="154.5" rx="2.94" ry="4.9" transform="rotate(22.38 109.6 154.5)" fill="#fff" stroke="#2a2a2a" stroke-width="0.9"/>
<ellipse cx="110" cy="154.3" rx="3.66" ry="6.1" transform="rotate(23.57 110 154.3)" fill="#333" stroke="#2a2a2a" stroke-width="1"/>
<path d="M107.56,159.89 L118.56,164.69 L123.44,153.51 L112.44,148.71" fill="#333" stroke="#2a2a2a" stroke-width="1"/>
<ellipse cx="121" cy="159.1" rx="3.66" ry="6.1" transform="rotate(23.57 121 159.1)" fill="#333" stroke="#2a2a2a" stroke-width="1"/>
<ellipse cx="110.6" cy="154.6" rx="3.4" ry="6" transform="rotate(23 110.6 154.6)" fill="none" stroke="#999" stroke-width="0.4"/>
<ellipse cx="112.2" cy="155.3" rx="3.4" ry="6" transform="rotate(23 112.2 155.3)" fill="none" stroke="#999" stroke-width="0.4"/>
<ellipse cx="113.8" cy="156" rx="3.4" ry="6" transform="rotate(23 113.8 156)" fill="none" stroke="#999" stroke-width="0.4"/>
<ellipse cx="115.4" cy="156.7" rx="3.4" ry="6" transform="rotate(23 115.4 156.7)" fill="none" stroke="#999" stroke-width="0.4"/>
<ellipse cx="117" cy="157.4" rx="3.4" ry="6" transform="rotate(23 117 157.4)" fill="none" stroke="#999" stroke-width="0.4"/>
<ellipse cx="118.6" cy="158.1" rx="3.4" ry="6" transform="rotate(23 118.6 158.1)" fill="none" stroke="#999" stroke-width="0.4"/>
<ellipse cx="120.2" cy="158.8" rx="3.4" ry="6" transform="rotate(23 120.2 158.8)" fill="none" stroke="#999" stroke-width="0.4"/>
<ellipse cx="121.2" cy="159.2" rx="3.66" ry="6.1" transform="rotate(24.3 121.2 159.2)" fill="#ddd" stroke="#2a2a2a" stroke-width="0.9"/>
<path d="M118.69,164.76 L121.79,166.16 L126.81,155.04 L123.71,153.64" fill="#ddd" stroke="#2a2a2a" stroke-width="0.9"/>
<ellipse cx="124.3" cy="160.6" rx="3.66" ry="6.1" transform="rotate(24.3 124.3 160.6)" fill="#ddd" stroke="#2a2a2a" stroke-width="0.9"/>
<ellipse cx="124.6" cy="160.7" rx="3.5" ry="6.1" transform="rotate(23 124.6 160.7)" fill="#fff" stroke="#2a2a2a" stroke-width="1.5"/>
<ellipse cx="124.8" cy="160.9" rx="3.42" ry="5.7" transform="rotate(23.96 124.8 160.9)" fill="#fff" stroke="#2a2a2a" stroke-width="1"/>
<path d="M122.49,166.11 L126.09,167.71 L130.71,157.29 L127.11,155.69" fill="#fff" stroke="#2a2a2a" stroke-width="1"/>
<ellipse cx="128.4" cy="162.5" rx="3.42" ry="5.7" transform="rotate(23.96 128.4 162.5)" fill="#fff" stroke="#2a2a2a" stroke-width="1"/>
<ellipse cx="128.4" cy="162.5" rx="3.4" ry="5.7" transform="rotate(23 128.4 162.5)" fill="#fff" stroke="#2a2a2a" stroke-width="1.5"/>
<path d="M210.5,295.75 C209.92,295.57 206.43,294.98 205.5,294.25 C204.57,293.52 202.91,297 202.5,289.5 C202.09,282 201.77,237.58 202,230 C202.23,222.42 202.98,225.78 204.5,224.5 C206.02,223.22 212.61,220.4 215,219 C217.39,217.6 222.38,214.37 225,212.5 C227.62,210.63 234.58,204.81 237.5,203 C240.42,201.19 247.38,198.22 250,197 C252.62,195.78 258.19,193.32 260,192.5 C261.81,191.68 264.33,190.18 265.5,190 C266.67,189.82 269.18,190.47 270,191 C270.82,191.53 272.21,194.09 272.5,194.5" fill="none" stroke="#1a1a1a" stroke-width="3.62" stroke-linecap="round"/>
<path d="M210.5,295.75 C209.92,295.57 206.43,294.98 205.5,294.25 C204.57,293.52 202.91,297 202.5,289.5 C202.09,282 201.77,237.58 202,230 C202.23,222.42 202.98,225.78 204.5,224.5 C206.02,223.22 212.61,220.4 215,219 C217.39,217.6 222.38,214.37 225,212.5 C227.62,210.63 234.58,204.81 237.5,203 C240.42,201.19 247.38,198.22 250,197 C252.62,195.78 258.19,193.32 260,192.5 C261.81,191.68 264.33,190.18 265.5,190 C266.67,189.82 269.18,190.47 270,191 C270.82,191.53 272.21,194.09 272.5,194.5" fill="none" stroke="#fff" stroke-width="1"/>
<path d="M214.25,299.75 L211.5,298.25 L210,295 L209.75,233 L209.86,232.66 L209.99,232.15 L210.15,231.53 L210.35,230.82 L210.62,230.08 L210.97,229.33 L211.43,228.63 L212,228 L212.83,227.35 L214,226.57 L215.39,225.71 L216.93,224.8 L218.5,223.88 L220.02,223 L221.38,222.19 L222.5,221.5 L223.5,220.84 L224.55,220.14 L225.65,219.39 L226.78,218.61 L227.91,217.82 L229.05,217.03 L230.17,216.25 L231.25,215.5 L232.46,214.64 L233.93,213.58 L235.57,212.39 L237.31,211.12 L239.08,209.86 L240.79,208.67 L242.37,207.61 L243.75,206.75 L245.13,205.98 L246.71,205.17 L248.42,204.33 L250.19,203.5 L251.93,202.7 L253.57,201.96 L255.04,201.3 L256.25,200.75 L257.34,200.26 L258.48,199.76 L259.65,199.26 L260.81,198.76 L261.95,198.28 L263.05,197.82 L264.07,197.39 L265,197 L265.97,196.57 L267.11,196.05 L268.34,195.48 L269.6,194.9 L270.83,194.35 L271.98,193.86 L272.97,193.48 L273.75,193.25 L274.39,193.14 L275.02,193.11 L275.62,193.14 L276.19,193.24 L276.72,193.38 L277.2,193.56 L277.63,193.77 L278,194 L278.35,194.33 L278.72,194.82 L279.1,195.4 L279.46,196.04 L279.8,196.67 L280.1,197.24 L280.33,197.7 L280.5,198 L280.5,262 Z" fill="#fff" stroke="#2a2a2a" stroke-width="1.5" stroke-linejoin="round"/>
<path d="M214.25,296.25 C214.15,290.07 213.18,241.07 213.25,234.5 C213.32,227.93 213.95,231.45 215,230.5 C216.05,229.55 222,226.15 223.75,225 C225.5,223.85 230.43,220.47 232.5,219 C234.57,217.53 242.1,211.72 244.5,210.25 C246.9,208.78 254.45,205.2 256.5,204.25 C258.55,203.3 263.15,201.53 265,200.75 C266.85,199.97 274,196.93 275,196.5" fill="none" stroke="#2a2a2a" stroke-width="0.75"/>
<path d="M254.25,201.75 L254.25,225.5" fill="none" stroke="#2a2a2a" stroke-width="0.88"/>
<path d="M257,200.5 L257,223.75" fill="none" stroke="#2a2a2a" stroke-width="0.62"/>
<path d="M263.25,197.75 L263.25,220" fill="none" stroke="#2a2a2a" stroke-width="0.88"/>
<path d="M265.75,196.75 L265.75,220" fill="none" stroke="#2a2a2a" stroke-width="0.62"/>
<path d="M275,213.75 L275,242.5" fill="none" stroke="#2a2a2a" stroke-width="0.88"/>
<path d="M277.5,212.5 L277.5,245" fill="none" stroke="#2a2a2a" stroke-width="0.75"/>
<path d="M272.5,221.25 L272.5,235.5" fill="none" stroke="#2a2a2a" stroke-width="0.75"/>
<ellipse cx="221.25" cy="235.5" rx="4.25" ry="4.89" transform="rotate(20 221.25 235.5)" fill="#666" stroke="#2a2a2a" stroke-width="1.62"/>
<ellipse cx="221.25" cy="235.5" rx="2.63" ry="2.97" transform="rotate(20 221.25 235.5)" fill="#bbb" stroke="#2a2a2a" stroke-width="1.12"/>
<ellipse cx="221.25" cy="235.5" rx="1.27" ry="1.49" transform="rotate(20 221.25 235.5)" fill="#555" stroke="#2a2a2a" stroke-width="0.88"/>
<ellipse cx="271.25" cy="205" rx="4.25" ry="4.89" transform="rotate(20 271.25 205)" fill="#666" stroke="#2a2a2a" stroke-width="1.62"/>
<ellipse cx="271.25" cy="205" rx="2.63" ry="2.97" transform="rotate(20 271.25 205)" fill="#bbb" stroke="#2a2a2a" stroke-width="1.12"/>
<ellipse cx="271.25" cy="205" rx="1.27" ry="1.49" transform="rotate(20 271.25 205)" fill="#555" stroke="#2a2a2a" stroke-width="0.88"/>
<ellipse cx="222" cy="287.5" rx="4.25" ry="4.89" transform="rotate(20 222 287.5)" fill="#666" stroke="#2a2a2a" stroke-width="1.62"/>
<ellipse cx="222" cy="287.5" rx="2.63" ry="2.97" transform="rotate(20 222 287.5)" fill="#bbb" stroke="#2a2a2a" stroke-width="1.12"/>
<ellipse cx="222" cy="287.5" rx="1.27" ry="1.49" transform="rotate(20 222 287.5)" fill="#555" stroke="#2a2a2a" stroke-width="0.88"/>
<ellipse cx="248" cy="224" rx="2.75" ry="5.5" transform="rotate(20 248 224)" fill="#ddd" stroke="#2a2a2a" stroke-width="1.38"/>
<ellipse cx="248" cy="224" rx="1.5" ry="3.5" transform="rotate(20 248 224)" fill="none" stroke="#2a2a2a" stroke-width="0.88"/>
<ellipse cx="230" cy="228" rx="0.65" ry="0.8" transform="rotate(0 230 228)" fill="#222" stroke="none" stroke-width="0"/>
<ellipse cx="232.5" cy="226.75" rx="0.65" ry="0.8" transform="rotate(0 232.5 226.75)" fill="#222" stroke="none" stroke-width="0"/>
<ellipse cx="235" cy="225.5" rx="0.65" ry="0.8" transform="rotate(0 235 225.5)" fill="#222" stroke="none" stroke-width="0"/>
<ellipse cx="237.5" cy="224.25" rx="0.65" ry="0.8" transform="rotate(0 237.5 224.25)" fill="#222" stroke="none" stroke-width="0"/>
<ellipse cx="230.75" cy="231.25" rx="0.65" ry="0.8" transform="rotate(0 230.75 231.25)" fill="#222" stroke="none" stroke-width="0"/>
<ellipse cx="233.25" cy="230" rx="0.65" ry="0.8" transform="rotate(0 233.25 230)" fill="#222" stroke="none" stroke-width="0"/>
<ellipse cx="235.75" cy="228.75" rx="0.65" ry="0.8" transform="rotate(0 235.75 228.75)" fill="#222" stroke="none" stroke-width="0"/>
<path d="M217.5,250.8 L221.25,249.3 L221.7,270.75 L217.95,272.25 Z" fill="none" stroke="#2a2a2a" stroke-width="1"/>
<path d="M217.5,258 L213.3,259.8 L213.3,266.25 L217.5,264.75" fill="none" stroke="#2a2a2a" stroke-width="1"/>
<path d="M221.7,255 L227.25,253.2" fill="none" stroke="#2a2a2a" stroke-width="0.88"/>
<path d="M221.7,262.5 L226.8,261" fill="none" stroke="#2a2a2a" stroke-width="0.88"/>
<path d="M227.33,240 L238.67,236.67 L240,238.67 L240,262.67 L228.67,266.67 L226.67,264.67 Z" fill="#fff" stroke="#2a2a2a" stroke-width="1.12"/>
<path d="M240,236 L246,233.5 L255,232.5 L295,247.5 L307.5,254.2 L315.8,256.7 L320.3,263.3 L318.6,268.9 L304,275 L298.3,273.5 L250,260.2 L243,263 L240,262 Z" fill="#fff" stroke="#2a2a2a" stroke-width="1.5" stroke-linejoin="round"/>
<path d="M257,234.6 L294.5,248.6" fill="none" stroke="#2a2a2a" stroke-width="1.88"/>
<path d="M240,262 L246,259.5 L246,233.5" fill="none" stroke="#2a2a2a" stroke-width="1.12"/>
<path d="M246,259.5 L250,260.2" fill="none" stroke="#2a2a2a" stroke-width="1.12"/>
<path d="M247,238.5 L285.5,253.5 L288,256.5 L288.5,259.5" fill="none" stroke="#2a2a2a" stroke-width="2.12"/>
<path d="M250,235.2 L293.3,251 L305,256.5" fill="none" stroke="#2a2a2a" stroke-width="1"/>
<path d="M248,250.5 L298.3,266.8" fill="none" stroke="#2a2a2a" stroke-width="1.5"/>
<path d="M248,254.5 L297,270" fill="none" stroke="#2a2a2a" stroke-width="1.12"/>
<path d="M262,243.5 L262,254" fill="none" stroke="#2a2a2a" stroke-width="0.88"/>
<path d="M270,246.5 L270,257" fill="none" stroke="#2a2a2a" stroke-width="0.88"/>
<path d="M280,250.5 L280,260.5" fill="none" stroke="#2a2a2a" stroke-width="0.88"/>
<path d="M295,252 L299,258 L299.5,268 L299,272" fill="none" stroke="#2a2a2a" stroke-width="1.12"/>
<path d="M295,252 L308,254 L318,258.5" fill="none" stroke="#2a2a2a" stroke-width="1.12"/>
<path d="M299,258 C300.5,257.75 305.33,256.42 308,256.5 C310.67,256.58 313.83,258.17 315,258.5" fill="none" stroke="#2a2a2a" stroke-width="1.25"/>
<path d="M299.5,262 C300.75,261.72 304.58,260.67 307,260.3 C309.42,259.93 312.17,259.65 314,259.8 C315.83,259.95 317.33,260.97 318,261.2" fill="none" stroke="#2a2a2a" stroke-width="1.88"/>
<path d="M299.5,265.2 L319.5,262.7" fill="none" stroke="#2a2a2a" stroke-width="1.62"/>
<path d="M300,268.3 L320,265.6" fill="none" stroke="#2a2a2a" stroke-width="1.25"/>
<path d="M300.5,271.3 L318.8,268.3" fill="none" stroke="#2a2a2a" stroke-width="1.5"/>
<path d="M275,239 L294,246.8 L296.8,250.2" fill="none" stroke="#2a2a2a" stroke-width="2"/>
<path d="M281,266 L297.5,271.2" fill="none" stroke="#2a2a2a" stroke-width="2"/>
<ellipse cx="260.8" cy="256.3" rx="2.2" ry="3" transform="rotate(25 260.8 256.3)" fill="#fff" stroke="#2a2a2a" stroke-width="1.25"/>
<ellipse cx="259.4" cy="255.6" rx="2.2" ry="3" transform="rotate(25 259.4 255.6)" fill="#fff" stroke="#2a2a2a" stroke-width="1.25"/>
<path d="M240,235.33 C240.89,234.78 243.44,233.11 245.33,232 C247.22,230.89 249.56,229.78 251.33,228.67 C253.11,227.56 254.67,226.11 256,225.33 C257.33,224.56 258.78,224.22 259.33,224" fill="none" stroke="#2a2a2a" stroke-width="1.25"/>
<path d="M242,238 C243,237.33 246.11,235.27 248,234 C249.89,232.73 251.78,231.36 253.33,230.4 C254.89,229.44 256.67,228.62 257.33,228.27" fill="none" stroke="#2a2a2a" stroke-width="1.25"/>
<path d="M251.33,228.67 L253.33,230.4" fill="none" stroke="#2a2a2a" stroke-width="1"/>
<path d="M256,225.33 L264,220 L266.67,222.67 L262.67,228.67 L269.33,233.33" fill="none" stroke="#2a2a2a" stroke-width="1.25"/>
<path d="M258.67,226.67 L264,231.33 L268,228.67" fill="none" stroke="#2a2a2a" stroke-width="1.5"/>
<path d="M260.67,222 L262.67,218.67 L265.33,220" fill="none" stroke="#2a2a2a" stroke-width="1.25"/>
<path d="M246,240 L256,252.67" fill="none" stroke="#2a2a2a" stroke-width="2"/>
<path d="M248,239.33 L258.67,252" fill="none" stroke="#2a2a2a" stroke-width="1"/>
<ellipse cx="234" cy="251.33" rx="3" ry="5" transform="rotate(-26.57 234 251.33)" fill="#fff" stroke="#2a2a2a" stroke-width="1.12"/>
<path d="M236.24,255.81 L240.24,253.81 L235.76,244.86 L231.76,246.86" fill="#fff" stroke="#2a2a2a" stroke-width="1.12"/>
<ellipse cx="238" cy="249.33" rx="3" ry="5" transform="rotate(-26.57 238 249.33)" fill="#fff" stroke="#2a2a2a" stroke-width="1.12"/>
<ellipse cx="232" cy="256" rx="2.93" ry="4" transform="rotate(-20 232 256)" fill="#fff" stroke="#2a2a2a" stroke-width="1.75"/>
<path d="M228.67,253.33 L235.33,258.67" fill="none" stroke="#2a2a2a" stroke-width="2"/>
<path d="M230,260.67 L234,252" fill="none" stroke="#2a2a2a" stroke-width="2"/>
<ellipse cx="232" cy="256" rx="0.93" ry="1.2" transform="rotate(0 232 256)" fill="#222" stroke="none" stroke-width="0"/>
<path d="M228.67,262.67 L232,266.67" fill="none" stroke="#2a2a2a" stroke-width="2"/>
<ellipse cx="246" cy="260.27" rx="0.8" ry="0.93" transform="rotate(0 246 260.27)" fill="#fff" stroke="#2a2a2a" stroke-width="1.12"/>
<ellipse cx="249.6" cy="262.4" rx="0.93" ry="1.07" transform="rotate(0 249.6 262.4)" fill="#fff" stroke="#2a2a2a" stroke-width="1.12"/>
<path d="M336.2,257.9 L340,255.4 L342.9,261.2 L338.3,264 Z" fill="#fff" stroke="#2a2a2a" stroke-width="1.1"/>
<ellipse cx="336.3" cy="263.8" rx="0.9" ry="0.8" transform="rotate(0 336.3 263.8)" fill="#222" stroke="none" stroke-width="0"/>
<path d="M324.6,270.4 C325.22,270.13 326.28,269.35 328.3,268.8 C330.32,268.25 334.2,267.8 336.7,267.1 C339.2,266.4 341.68,265.43 343.3,264.6 C344.92,263.77 346.02,262.77 346.4,262.1 C346.78,261.43 345.73,260.85 345.6,260.6" fill="none" stroke="#2a2a2a" stroke-width="1.2"/>
<path d="M325.2,269.2 C325.72,268.97 327,268.18 328.3,267.8 C329.6,267.42 332.22,267.05 333,266.9" fill="none" stroke="#2a2a2a" stroke-width="0.8"/>
<path d="M333,268.6 C333.92,268.43 336.67,268.13 338.5,267.6 C340.33,267.07 343.08,265.77 344,265.4" fill="none" stroke="#2a2a2a" stroke-width="0.8"/>
<ellipse cx="324.6" cy="270.4" rx="0.8" ry="0.8" transform="rotate(0 324.6 270.4)" fill="#222" stroke="none" stroke-width="0"/>
<path d="M391.6,177 L405.6,171.6 L405.6,187 L391.6,192.4 Z" fill="#fff" stroke="#2a2a2a" stroke-width="1"/>
<path d="M391.6,177 L391.6,203 L403.6,196.4" fill="none" stroke="#2a2a2a" stroke-width="1"/>
<path d="M405.6,171.6 L423,164 L423,179 L405.6,187 Z" fill="#fff" stroke="#2a2a2a" stroke-width="1"/>
<path d="M423,159 L425.6,160 L425.6,170 L423,174" fill="none" stroke="#2a2a2a" stroke-width="0.9"/>
<path d="M423,159 L423,179" fill="none" stroke="#2a2a2a" stroke-width="1"/>
<path d="M425.6,160 L447,148 L448,148 L448,160 L425.6,170 Z" fill="#fff" stroke="#2a2a2a" stroke-width="1"/>
<path d="M449,147 L466,138.4 L466,151 L449,159.4 Z" fill="#fff" stroke="#2a2a2a" stroke-width="1"/>
<path d="M448,148 L449,147" fill="none" stroke="#2a2a2a" stroke-width="0.9"/>
<path d="M466,133.6 L478,129 L479,140 L468,145.6 L466,151" fill="none" stroke="#2a2a2a" stroke-width="1"/>
<path d="M466,133.6 L466,151" fill="none" stroke="#2a2a2a" stroke-width="1"/>
<path d="M403.6,196.4 L489,147.6 L489,146 L479,140" fill="none" stroke="#2a2a2a" stroke-width="1.1"/>
<path d="M405.6,187 L412,190 L468,160 L487,149" fill="none" stroke="#2a2a2a" stroke-width="0.8"/>
<path d="M391.6,192.4 L403.6,196.4" fill="none" stroke="#2a2a2a" stroke-width="0.8"/>
<path d="M392.4,190.4 L401,185.6 L410,189.6 L404,195.6 Z" fill="#bbb" stroke="#2a2a2a" stroke-width="0.9"/>
<path d="M396,188.4 L405.6,193.6" fill="none" stroke="#fff" stroke-width="0.7"/>
<path d="M398.4,187 L408,192" fill="none" stroke="#fff" stroke-width="0.7"/>
<path d="M469,145.2 L478,141 L487,146 L479.6,150.6 Z" fill="#bbb" stroke="#2a2a2a" stroke-width="0.9"/>
<path d="M472.4,143.6 L482,149" fill="none" stroke="#fff" stroke-width="0.7"/>
<path d="M475,142.2 L484.4,147.4" fill="none" stroke="#fff" stroke-width="0.7"/>
<path d="M417,185.6 L428,180.4 L428,182.8 L418,187.6" fill="#ddd" stroke="#2a2a2a" stroke-width="0.7"/>
<path d="M444.4,171.4 L466,160.4 L466.8,162.4 L445.2,173.6 Z" fill="#ddd" stroke="#2a2a2a" stroke-width="0.7"/>
<path d="M402,162.4 L405.6,158 L415.2,163.6 L412,168 Z" fill="#aaa" stroke="#2a2a2a" stroke-width="0.9"/>
<path d="M405.6,158 L408,157.2 L417.2,162.4 L415.2,163.6" fill="none" stroke="#2a2a2a" stroke-width="0.8"/>
<path d="M404.4,160.4 L413.6,166" fill="none" stroke="#fff" stroke-width="0.6"/>
<path d="M425,148.4 L428.6,144 L438.4,149.6 L435,154.4 Z" fill="#aaa" stroke="#2a2a2a" stroke-width="0.9"/>
<path d="M428.6,144 L431,143.2 L440,148.4 L438.4,149.6" fill="none" stroke="#2a2a2a" stroke-width="0.8"/>
<path d="M427.4,146.4 L436.8,152" fill="none" stroke="#fff" stroke-width="0.6"/>
<ellipse cx="51.5" cy="337" rx="33.3" ry="18.8" transform="rotate(-54 51.5 337)" fill="#fff" stroke="#2a2a2a" stroke-width="1"/>
<path d="M32.86,364.55 L62.86,381.85 L100.14,326.75 L70.14,309.45 Z" fill="#fff" stroke="none" stroke-width="0"/>
<line x1="32.86" y1="364.55" x2="62.86" y2="381.85" stroke="#2a2a2a" stroke-width="1" />
<line x1="70.14" y1="309.45" x2="100.14" y2="326.75" stroke="#2a2a2a" stroke-width="1" />
<path d="M32.86,364.55 L31.64,363.72 L30.54,362.73 L29.56,361.58 L28.72,360.28 L28.03,358.84 L27.47,357.26 L27.07,355.56 L26.82,353.74 L26.71,351.82 L26.77,349.81 L26.97,347.72 L27.32,345.56 L27.83,343.35 L28.48,341.1 L29.27,338.83 L30.2,336.54 L31.26,334.26 L32.44,331.99 L33.74,329.76 L35.16,327.57 L36.67,325.43 L38.27,323.37 L39.96,321.4 L41.72,319.52 L43.53,317.74 L45.4,316.09 L47.3,314.56 L49.23,313.18 L51.18,311.94 L53.12,310.85 L55.06,309.93 L56.97,309.17 L58.85,308.58 L60.69,308.17 L62.46,307.94 L64.17,307.89 L65.81,308.01 L67.35,308.32 L68.8,308.8 L70.14,309.45" fill="none" stroke="#111" stroke-width="2"/>
<path d="M34.56,365.45 L33.34,364.62 L32.24,363.63 L31.26,362.48 L30.42,361.18 L29.73,359.74 L29.17,358.16 L28.77,356.46 L28.52,354.64 L28.41,352.72 L28.47,350.71 L28.67,348.62 L29.02,346.46 L29.53,344.25 L30.18,342 L30.97,339.73 L31.9,337.44 L32.96,335.16 L34.14,332.89 L35.44,330.66 L36.86,328.47 L38.37,326.33 L39.97,324.27 L41.66,322.3 L43.42,320.42 L45.23,318.64 L47.1,316.99 L49,315.46 L50.93,314.08 L52.88,312.84 L54.82,311.75 L56.76,310.83 L58.67,310.07 L60.55,309.48 L62.39,309.07 L64.16,308.84 L65.87,308.79 L67.51,308.91 L69.05,309.22 L70.5,309.7 L71.84,310.35" fill="none" stroke="#333" stroke-width="0.9"/>
<path d="M35.76,366.15 L34.54,365.32 L33.44,364.33 L32.46,363.18 L31.62,361.88 L30.93,360.44 L30.37,358.86 L29.97,357.16 L29.72,355.34 L29.61,353.42 L29.67,351.41 L29.87,349.32 L30.22,347.16 L30.73,344.95 L31.38,342.7 L32.17,340.43 L33.1,338.14 L34.16,335.86 L35.34,333.59 L36.64,331.36 L38.06,329.17 L39.57,327.03 L41.17,324.97 L42.86,323 L44.62,321.12 L46.43,319.34 L48.3,317.69 L50.2,316.16 L52.13,314.78 L54.08,313.54 L56.02,312.45 L57.96,311.53 L59.87,310.77 L61.75,310.18 L63.59,309.77 L65.36,309.54 L67.07,309.49 L68.71,309.61 L70.25,309.92 L71.7,310.4 L73.04,311.05" fill="none" stroke="#444" stroke-width="0.8"/>
<ellipse cx="81.5" cy="354.3" rx="33.3" ry="18.8" transform="rotate(-54 81.5 354.3)" fill="#fff" stroke="#2a2a2a" stroke-width="1"/>
<line x1="105.83" y1="334.17" x2="147.5" y2="358" stroke="#262626" stroke-width="2.7" />
<line x1="105.83" y1="334.17" x2="147.5" y2="358" stroke="#8c8c8c" stroke-width="1.4" />
<line x1="105.83" y1="334.17" x2="147.5" y2="358" stroke="#555" stroke-width="1.4" stroke-dasharray="0.5 0.9"/>
<line x1="147.5" y1="358" x2="150.97" y2="359.99" stroke="#222" stroke-width="5" />
<line x1="148.02" y1="358.3" x2="148.89" y2="358.79" stroke="#eee" stroke-width="3.6" />
<ellipse cx="150.97" cy="359.99" rx="1.3" ry="2.5" transform="rotate(29.77 150.97 359.99)" fill="#3a3a3a" stroke="#222" stroke-width="0.6"/>
<ellipse cx="150.97" cy="359.99" rx="0.6" ry="1.3" transform="rotate(29.77 150.97 359.99)" fill="#666" stroke="#999" stroke-width="0.4"/>
<line x1="125" y1="370" x2="136.67" y2="377" stroke="#262626" stroke-width="2.7" />
<line x1="125" y1="370" x2="136.67" y2="377" stroke="#8c8c8c" stroke-width="1.4" />
<line x1="125" y1="370" x2="136.67" y2="377" stroke="#555" stroke-width="1.4" stroke-dasharray="0.5 0.9"/>
<line x1="136.67" y1="377" x2="140.1" y2="379.06" stroke="#222" stroke-width="5" />
<line x1="137.18" y1="377.31" x2="138.04" y2="377.82" stroke="#eee" stroke-width="3.6" />
<ellipse cx="140.1" cy="379.06" rx="1.3" ry="2.5" transform="rotate(30.96 140.1 379.06)" fill="#3a3a3a" stroke="#222" stroke-width="0.6"/>
<ellipse cx="140.1" cy="379.06" rx="0.6" ry="1.3" transform="rotate(30.96 140.1 379.06)" fill="#666" stroke="#999" stroke-width="0.4"/>
<line x1="130.83" y1="384.17" x2="148" y2="393.83" stroke="#262626" stroke-width="2.7" />
<line x1="130.83" y1="384.17" x2="148" y2="393.83" stroke="#8c8c8c" stroke-width="1.4" />
<line x1="130.83" y1="384.17" x2="148" y2="393.83" stroke="#555" stroke-width="1.4" stroke-dasharray="0.5 0.9"/>
<line x1="148" y1="393.83" x2="151.49" y2="395.8" stroke="#222" stroke-width="5" />
<line x1="148.52" y1="394.13" x2="149.39" y2="394.62" stroke="#eee" stroke-width="3.6" />
<ellipse cx="151.49" cy="395.8" rx="1.3" ry="2.5" transform="rotate(29.38 151.49 395.8)" fill="#3a3a3a" stroke="#222" stroke-width="0.6"/>
<ellipse cx="151.49" cy="395.8" rx="0.6" ry="1.3" transform="rotate(29.38 151.49 395.8)" fill="#666" stroke="#999" stroke-width="0.4"/>
<ellipse cx="92.5" cy="370" rx="7.5" ry="12.5" transform="rotate(-12.09 92.5 370)" fill="#fff" stroke="#2a2a2a" stroke-width="1.3"/>
<path d="M95.12,382.22 L106.79,379.72 L101.55,355.28 L89.88,357.78" fill="#fff" stroke="#2a2a2a" stroke-width="1.3"/>
<ellipse cx="104.17" cy="367.5" rx="7.5" ry="12.5" transform="rotate(-12.09 104.17 367.5)" fill="#fff" stroke="#2a2a2a" stroke-width="1.3"/>
<path d="M110,343.33 L113.67,339.67 L125.83,346.33 L124.17,352.5 L120,353.33 L110.83,348.67 Z" fill="#fff" stroke="#2a2a2a" stroke-width="1.3"/>
<path d="M110.83,345 L120,350" fill="none" stroke="#2a2a2a" stroke-width="2.03"/>
<path d="M113.67,339.67 L115,345" fill="none" stroke="#2a2a2a" stroke-width="1.01"/>
<path d="M84.17,357.5 L88.33,354.17 L98.33,358.67 L99.17,367.5 L95,369.17 L85,364.17 Z" fill="#fff" stroke="#2a2a2a" stroke-width="1.3"/>
<path d="M85.83,359.67 L95,364.17" fill="none" stroke="#2a2a2a" stroke-width="2.03"/>
<path d="M85.83,361.67 L95,366.33" fill="none" stroke="#2a2a2a" stroke-width="1.01"/>
<path d="M86.67,384.17 L90.83,382.5 L98.33,386.33 L98,395.83 L95,398.33 L86.67,394.17 Z" fill="#fff" stroke="#2a2a2a" stroke-width="1.3"/>
<path d="M87.5,386.67 L95.83,390.83" fill="none" stroke="#2a2a2a" stroke-width="2.03"/>
<path d="M87.5,389.17 L95.83,393.33" fill="none" stroke="#2a2a2a" stroke-width="1.01"/>
<path d="M84.17,394.17 L96.67,400.83" fill="none" stroke="#2a2a2a" stroke-width="1.3"/>
<path d="M98.67,364.67 C100.11,363.29 103.7,360.91 105.83,359.67 C107.97,358.42 112.38,356.76 114.67,355.33 C116.96,353.91 121.29,350.16 123,349 C124.71,347.84 126.72,346.31 127.5,346.67 C128.28,347.02 129.03,349.71 128.83,351.67 C128.63,353.62 126.69,358.89 126,361.33 C125.31,363.78 123.67,367.73 123.67,370 C123.67,372.27 125.38,376.73 126,378.33 C126.62,379.93 128.47,381.16 128.33,382 C128.2,382.84 126.51,384.13 125,384.67 C123.49,385.2 119.18,385.29 117,386 C114.82,386.71 110.76,388.47 108.67,390 C106.58,391.53 102.8,396.17 101.33,397.5 C99.87,398.83 98.4,400.22 97.67,400 C96.93,399.78 95.86,397.61 95.83,395.83 C95.81,394.06 97.39,389 97.5,386.67 C97.61,384.33 97,380.56 96.67,378.33 C96.33,376.11 94.73,371.82 95,370 C95.27,368.18 97.22,366.04 98.67,364.67 Z" fill="#fff" stroke="#2a2a2a" stroke-width="1.45"/>
<path d="M128.83,351.67 C129.03,351.89 130.51,351.89 130.33,353.33 C130.16,354.78 128.14,360.28 127.5,362.5 C126.86,364.72 125.5,368 125.5,370 C125.5,372 126.9,375.99 127.5,377.5 C128.1,379.01 129.89,380.56 130,381.33 C130.11,382.11 128.56,383.07 128.33,383.33" fill="none" stroke="#2a2a2a" stroke-width="1.01"/>
<path d="M97.67,400 C97.98,400.27 99.24,402.11 100,402 C100.76,401.89 102,400.54 103.33,399.17 C104.67,397.79 109.11,392.67 110,391.67" fill="none" stroke="#2a2a2a" stroke-width="1.01"/>
<ellipse cx="110.83" cy="361.67" rx="2.33" ry="3.17" transform="rotate(25 110.83 361.67)" fill="#fff" stroke="#2a2a2a" stroke-width="1.3"/>
<ellipse cx="120" cy="357" rx="2.33" ry="3.17" transform="rotate(25 120 357)" fill="#fff" stroke="#2a2a2a" stroke-width="1.3"/>
<ellipse cx="120" cy="367.5" rx="2.33" ry="3.17" transform="rotate(25 120 367.5)" fill="#fff" stroke="#2a2a2a" stroke-width="1.3"/>
<ellipse cx="110.83" cy="384.17" rx="2.33" ry="3.17" transform="rotate(25 110.83 384.17)" fill="#fff" stroke="#2a2a2a" stroke-width="1.3"/>
<ellipse cx="100.83" cy="388.33" rx="2.33" ry="3.17" transform="rotate(25 100.83 388.33)" fill="#fff" stroke="#2a2a2a" stroke-width="1.3"/>
<line x1="70" y1="357.5" x2="100" y2="369.33" stroke="#262626" stroke-width="2.7" />
<line x1="70" y1="357.5" x2="100" y2="369.33" stroke="#8c8c8c" stroke-width="1.4" />
<line x1="70" y1="357.5" x2="100" y2="369.33" stroke="#555" stroke-width="1.4" stroke-dasharray="0.5 0.9"/>
<line x1="101.67" y1="369.17" x2="117.5" y2="377" stroke="#262626" stroke-width="2.7" />
<line x1="101.67" y1="369.17" x2="117.5" y2="377" stroke="#8c8c8c" stroke-width="1.4" />
<line x1="101.67" y1="369.17" x2="117.5" y2="377" stroke="#555" stroke-width="1.4" stroke-dasharray="0.5 0.9"/>
<line x1="117.5" y1="377" x2="121.09" y2="378.77" stroke="#222" stroke-width="5" />
<line x1="118.04" y1="377.27" x2="118.93" y2="377.71" stroke="#eee" stroke-width="3.6" />
<ellipse cx="121.09" cy="378.77" rx="1.3" ry="2.5" transform="rotate(26.32 121.09 378.77)" fill="#3a3a3a" stroke="#222" stroke-width="0.87"/>
<ellipse cx="121.09" cy="378.77" rx="0.6" ry="1.3" transform="rotate(26.32 121.09 378.77)" fill="#666" stroke="#999" stroke-width="0.58"/>
<line x1="70" y1="384.17" x2="100" y2="400.83" stroke="#262626" stroke-width="2.7" />
<line x1="70" y1="384.17" x2="100" y2="400.83" stroke="#8c8c8c" stroke-width="1.4" />
<line x1="70" y1="384.17" x2="100" y2="400.83" stroke="#555" stroke-width="1.4" stroke-dasharray="0.5 0.9"/>
<line x1="100" y1="400.83" x2="118" y2="411.33" stroke="#262626" stroke-width="2.7" />
<line x1="100" y1="400.83" x2="118" y2="411.33" stroke="#8c8c8c" stroke-width="1.4" />
<line x1="100" y1="400.83" x2="118" y2="411.33" stroke="#555" stroke-width="1.4" stroke-dasharray="0.5 0.9"/>
<line x1="118" y1="411.33" x2="121.46" y2="413.35" stroke="#222" stroke-width="5" />
<line x1="118.52" y1="411.64" x2="119.38" y2="412.14" stroke="#eee" stroke-width="3.6" />
<ellipse cx="121.46" cy="413.35" rx="1.3" ry="2.5" transform="rotate(30.26 121.46 413.35)" fill="#3a3a3a" stroke="#222" stroke-width="0.87"/>
<ellipse cx="121.46" cy="413.35" rx="0.6" ry="1.3" transform="rotate(30.26 121.46 413.35)" fill="#666" stroke="#999" stroke-width="0.58"/>
<ellipse cx="101.67" cy="369.17" rx="1.67" ry="2.17" transform="rotate(25 101.67 369.17)" fill="#fff" stroke="#2a2a2a" stroke-width="1.3"/>
<ellipse cx="99.67" cy="378.33" rx="2" ry="2.67" transform="rotate(25 99.67 378.33)" fill="#ccc" stroke="#2a2a2a" stroke-width="1.45"/>
<ellipse cx="126.33" cy="382" rx="1.17" ry="1.5" transform="rotate(0 126.33 382)" fill="#fff" stroke="#2a2a2a" stroke-width="1.16"/>
<text y="101.7" font-size="15"><tspan x="10.7">1</tspan><tspan x="20.6">9</tspan></text>
<text y="157.5" font-size="15"><tspan x="0.7">1</tspan><tspan x="10.6">8</tspan></text>
<text y="166" font-size="15"><tspan x="16.7">1</tspan><tspan x="26.6">7</tspan></text>
<text y="141.7" font-size="15"><tspan x="123.4">1</tspan><tspan x="133.3">5</tspan></text>
<text y="162.5" font-size="15"><tspan x="156.2">1</tspan><tspan x="166.1">4</tspan></text>
<text y="210.8" font-size="15"><tspan x="88.4">1</tspan><tspan x="98.3">6</tspan></text>
<text y="179.2" font-size="15"><tspan x="188.4">1</tspan><tspan x="198.3">3</tspan></text>
<text y="189.2" font-size="15"><tspan x="205">1</tspan><tspan x="214.9">2</tspan></text>
<text y="215.7" font-size="15"><tspan x="313.7">1</tspan><tspan x="322.4">1</tspan></text>
<text y="231" font-size="15"><tspan x="343.7">1</tspan><tspan x="353.6">0</tspan></text>
<text x="369.8" y="244.2" font-size="15" text-anchor="start" >9</text>
<text x="333" y="367.7" font-size="15" text-anchor="start" >8</text>
<text x="466.8" y="287" font-size="15" text-anchor="start" >7</text>
<text x="566" y="339" font-size="15" text-anchor="start" >6</text>
<text x="475" y="392.5" font-size="15" text-anchor="start" >5</text>
<text x="430.5" y="403" font-size="15" text-anchor="start" >4</text>
<text x="431" y="431" font-size="15" text-anchor="start" >3</text>
<text x="430.6" y="451" font-size="15" text-anchor="start" >2</text>
<text x="583.8" y="444" font-size="15" text-anchor="start" >1</text>
<text x="55.2" y="428.2" font-size="15" text-anchor="start" >20</text>
<text x="190.6" y="507" font-size="15" text-anchor="start" >21</text>
<line x1="15.4" y1="107.5" x2="11.7" y2="114.2" stroke="#383838" stroke-width="0.8" />
<line x1="15.4" y1="107.5" x2="15.8" y2="117.5" stroke="#383838" stroke-width="0.8" />
<line x1="22" y1="139.6" x2="18.8" y2="145" stroke="#383838" stroke-width="0.8" />
<line x1="33.3" y1="146.2" x2="31.2" y2="150" stroke="#383838" stroke-width="0.8" />
<line x1="130.8" y1="146.7" x2="126.7" y2="152.5" stroke="#383838" stroke-width="0.8" />
<line x1="159.6" y1="165.3" x2="148.4" y2="171.5" stroke="#383838" stroke-width="0.8" />
<line x1="159.6" y1="165.3" x2="140.6" y2="196.2" stroke="#383838" stroke-width="0.8" />
<line x1="159.6" y1="165.3" x2="159.8" y2="193" stroke="#383838" stroke-width="0.8" />
<line x1="100" y1="196.7" x2="78.3" y2="190.8" stroke="#383838" stroke-width="0.8" />
<line x1="100" y1="196.7" x2="100.8" y2="167.5" stroke="#383838" stroke-width="0.8" />
<line x1="100.3" y1="196.7" x2="110.8" y2="127.5" stroke="#383838" stroke-width="0.8" />
<line x1="200.8" y1="185.8" x2="200.8" y2="201.7" stroke="#383838" stroke-width="0.8" />
<line x1="214.2" y1="192.5" x2="214.2" y2="204.2" stroke="#383838" stroke-width="0.8" />
<line x1="318.8" y1="217.5" x2="314.2" y2="223.8" stroke="#383838" stroke-width="0.8" />
<line x1="352.5" y1="238.3" x2="342.5" y2="254.7" stroke="#383838" stroke-width="0.8" />
<line x1="369.7" y1="249.2" x2="353.7" y2="275.8" stroke="#383838" stroke-width="0.8" />
<line x1="340.2" y1="351.8" x2="339.5" y2="331.5" stroke="#383838" stroke-width="0.8" />
<line x1="340.2" y1="351.8" x2="362.8" y2="314" stroke="#383838" stroke-width="0.8" />
<line x1="466.7" y1="292.7" x2="452" y2="318.3" stroke="#383838" stroke-width="0.8" />
<line x1="568" y1="342" x2="562" y2="351.4" stroke="#383838" stroke-width="0.8" />
<line x1="464.3" y1="387.2" x2="473.7" y2="387.2" stroke="#383838" stroke-width="0.8" />
<line x1="444" y1="396.4" x2="452" y2="396.4" stroke="#383838" stroke-width="0.8" />
<line x1="443" y1="426.6" x2="461" y2="426.6" stroke="#383838" stroke-width="0.8" />
<line x1="442" y1="443.6" x2="460" y2="433" stroke="#383838" stroke-width="0.8" />
<line x1="568" y1="439" x2="585" y2="439" stroke="#383838" stroke-width="0.8" />
<line x1="72.5" y1="407.2" x2="69.5" y2="412.5" stroke="#383838" stroke-width="0.8" />
<line x1="209" y1="486" x2="206" y2="492" stroke="#383838" stroke-width="0.8" />
<path d="M21.2,364.5 L15.8,373.3 L131.3,439.8 L136,430.5" fill="none" stroke="#383838" stroke-width="0.8"/>
<path d="M183.6,458.4 L178.4,467 L241.6,504 L247,494" fill="none" stroke="#383838" stroke-width="0.8"/>
</svg>
</body></html>
